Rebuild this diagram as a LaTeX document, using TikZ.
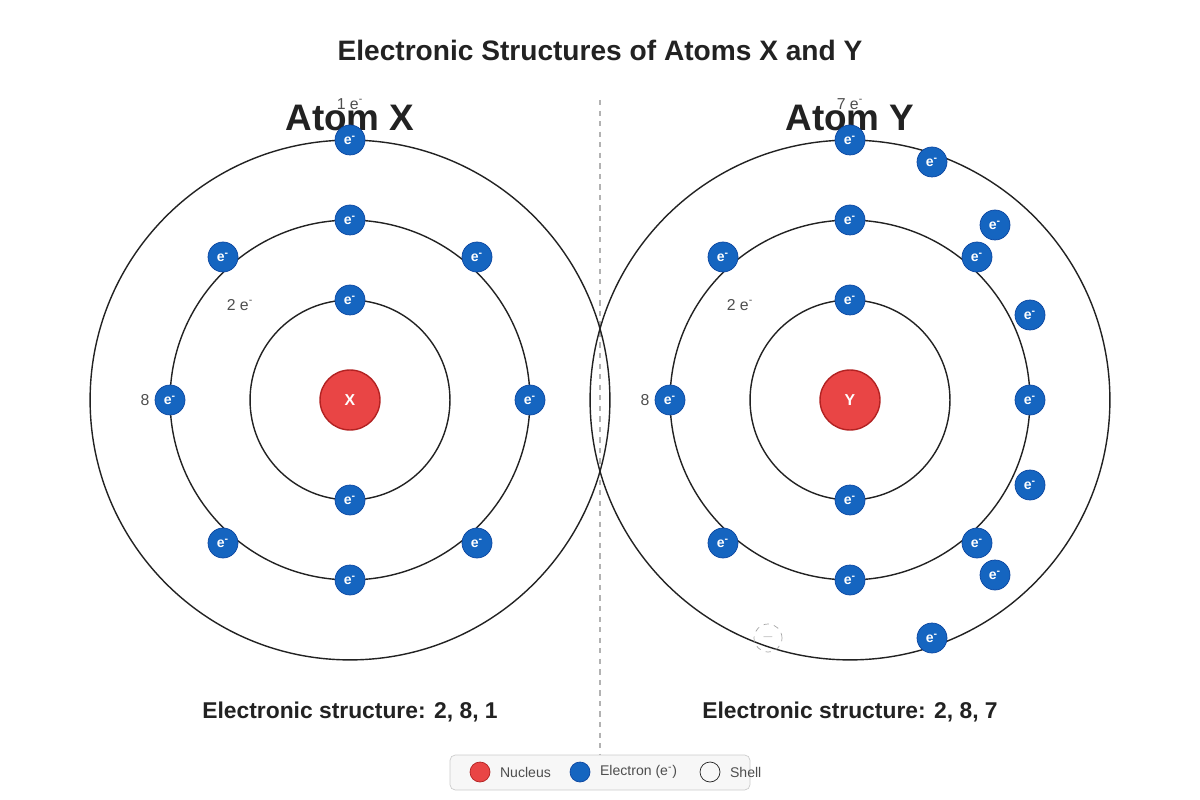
\documentclass[tikz,border=0pt]{standalone}
\usepackage{fontspec}
\setmainfont{Liberation Sans}
\usetikzlibrary{positioning}
\definecolor{nuc}{HTML}{E94545}
\definecolor{nucb}{HTML}{B22222}
\definecolor{elec}{HTML}{1565C0}
\definecolor{elecb}{HTML}{0D47A1}
\definecolor{ink}{HTML}{222222}
\newcommand{\el}{e\textsuperscript{-}}

\begin{document}
\begin{tikzpicture}[x=0.02cm, y=-0.02cm,
			shell/.style={circle, draw=ink, thick, minimum size=#1*0.04cm, inner sep=0pt},
			nucleus/.style={circle, draw=nucb, thick, fill=nuc, minimum size=1.2cm, inner sep=0pt, text=white, font=\bfseries\small},
			electron/.style={circle, draw=elecb, fill=elec, minimum size=0.6cm, inner sep=0pt, text=white, font=\bfseries\fontsize{8}{9}\selectfont},
			count/.style={text=ink!80, font=\small},
			caption/.style={font=\bfseries\fontsize{13}{15}\selectfont, text=ink}
		]
		\useasboundingbox (0,0) rectangle (1200,800);

		\node[font=\bfseries\fontsize{16}{18}\selectfont, text=ink] (title) at (600,50) {Electronic Structures of Atoms X and Y};
		\coordinate (top) at (600,100);
		\coordinate (bot) at (600,760);
		\draw[gray!60, dashed, thick] (top) -- (bot);

		% atom X
		\node[shell=260] (xs3) at (350,400) {};
		\node[shell=180] (xs2) at (350,400) {};
		\node[shell=100] (xs1) at (350,400) {};
		\node[font=\bfseries\fontsize{21}{24}\selectfont, text=ink] (xname) at (350,118) {Atom X};
		\node[nucleus] (xn) at (350,400) {X};
		\node[electron] (x1) at (350,300) {\el};
		\node[electron] (x2) at (350,500) {\el};
		\node[electron] (x3) at (350,220) {\el};
		\node[electron] (x4) at (477,257) {\el};
		\node[electron] (x5) at (530,400) {\el};
		\node[electron] (x6) at (477,543) {\el};
		\node[electron] (x7) at (350,580) {\el};
		\node[electron] (x8) at (223,543) {\el};
		\node[electron] (x9) at (170,400) {\el};
		\node[electron] (x10) at (223,257) {\el};
		\node[electron] (x11) at (350,140) {\el};
		\node[count] at (350,104) {1 \el};
		\node[count] at (240,305) {2 \el};
		\node[count] at (145,400) {8};
		\node[caption] (xcap) at (350,712) {Electronic structure: 2, 8, 1};

		% atom Y
		\node[shell=260] (ys3) at (850,400) {};
		\node[shell=180] (ys2) at (850,400) {};
		\node[shell=100] (ys1) at (850,400) {};
		\node[font=\bfseries\fontsize{21}{24}\selectfont, text=ink] (yname) at (850,118) {Atom Y};
		\node[nucleus] (yn) at (850,400) {Y};
		\node[electron] (y1) at (850,300) {\el};
		\node[electron] (y2) at (850,500) {\el};
		\node[electron] (y3) at (850,220) {\el};
		\node[electron] (y4) at (977,257) {\el};
		\node[electron] (y5) at (1030,400) {\el};
		\node[electron] (y6) at (977,543) {\el};
		\node[electron] (y7) at (850,580) {\el};
		\node[electron] (y8) at (723,543) {\el};
		\node[electron] (y9) at (670,400) {\el};
		\node[electron] (y10) at (723,257) {\el};
		\node[electron] (y11) at (850,140) {\el};
		\node[electron] (y12) at (932,162) {\el};
		\node[electron] (y13) at (995,225) {\el};
		\node[electron] (y14) at (1030,315) {\el};
		\node[electron] (y15) at (1030,485) {\el};
		\node[electron] (y16) at (995,575) {\el};
		\node[electron] (y17) at (932,638) {\el};
		\node[circle, draw=gray!70, dashed, minimum size=0.56cm, inner sep=0pt, text=gray!70, font=\tiny] (gap) at (768,638) {---};
		\node[count] at (850,104) {7 \el};
		\node[count] at (740,305) {2 \el};
		\node[count] at (645,400) {8};
		\node[caption] (ycap) at (850,712) {Electronic structure: 2, 8, 7};

		% legend
		\draw[gray!40, fill=gray!6, rounded corners=3pt] (450,755) rectangle (750,790);
		\node[circle, draw=nucb, fill=nuc, minimum size=0.4cm, inner sep=0pt] (ln) at (480,772) {};
		\node[right=2pt of ln, font=\footnotesize, text=ink!80] {Nucleus};
		\node[circle, draw=elecb, fill=elec, minimum size=0.4cm, inner sep=0pt] (le) at (580,772) {};
		\node[right=2pt of le, font=\footnotesize, text=ink!80] {Electron (\el)};
		\node[circle, draw=ink, minimum size=0.4cm, inner sep=0pt] (ls) at (710,772) {};
		\node[right=2pt of ls, font=\footnotesize, text=ink!80] {Shell};
	\end{tikzpicture}
\end{document}
